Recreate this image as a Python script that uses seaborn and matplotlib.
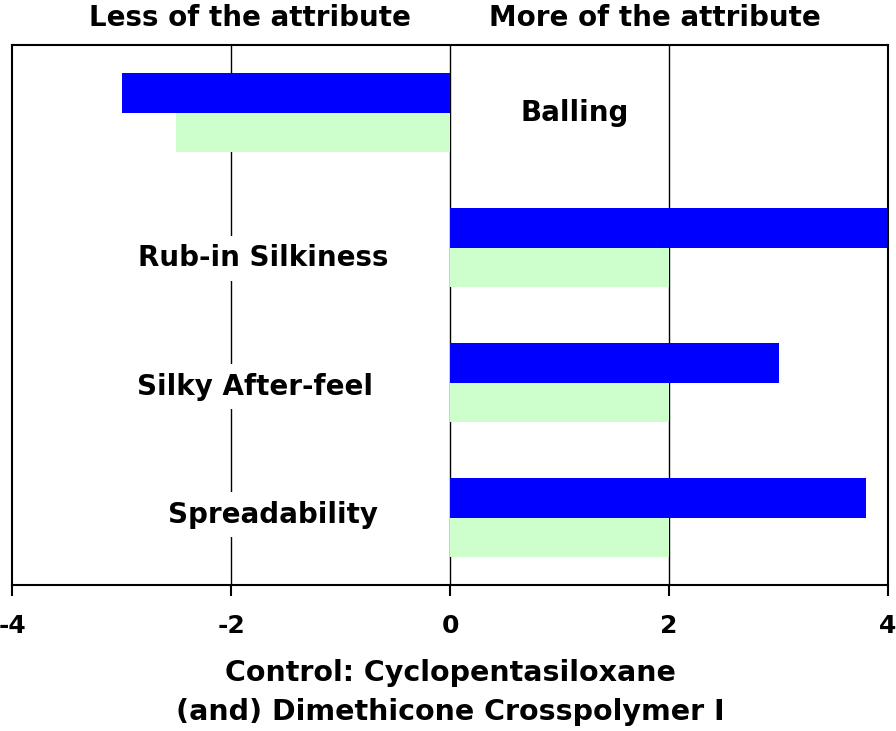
import pandas as pd
import matplotlib
matplotlib.use("Agg")
import matplotlib.pyplot as plt
import seaborn as sns

# attributes (top to bottom) and scores for the two products
attributes = ["Balling", "Rub-in Silkiness", "Silky After-feel", "Spreadability"]
test_scores = [-3.0, 4.1, 3.0, 3.8]
control_scores = [-2.5, 2.0, 2.0, 2.0]
series_names = ["Test", "Control"]
series_colors = ["#0000FF", "#CCFFCC"]
x_ticks = [-4, -2, 0, 2, 4]

# where the attribute names sit inside the plot
label_x = [1.14, -1.71, -1.78, -1.62]
label_y = [0.0, 1.08, 2.03, 2.98]

df = pd.DataFrame({
    "attribute": attributes * 2,
    "score": test_scores + control_scores,
    "series": [series_names[0]] * len(attributes) + [series_names[1]] * len(attributes),
})

sns.set_style("white")
plt.rcParams["font.family"] = ["DejaVu Sans"]
plt.rcParams["font.weight"] = "bold"
plt.rcParams["text.color"] = "black"
plt.rcParams["xtick.color"] = "black"
plt.rcParams["axes.labelcolor"] = "black"

fig = plt.figure(figsize=(8.96, 7.31), dpi=100)
ax = fig.add_axes([0.0134, 0.1997, 0.9777, 0.7387])

for gx in x_ticks[1:-1]:
    ax.axvline(gx, color="black", lw=1.0, zorder=0)

sns.barplot(data=df, x="score", y="attribute", hue="series", order=attributes,
            hue_order=series_names, palette=series_colors, orient="h",
            width=0.58, saturation=1, legend=False, ax=ax, zorder=2,
            edgecolor="none")

ax.set_xlim(-4, 4)
ax.set_ylim(3.5, -0.5)
ax.set_xticks(x_ticks)
ax.set_xticklabels([str(t) for t in x_ticks], fontsize=18, fontweight="bold")
ax.set_yticks([])
ax.set_ylabel("")
ax.set_xlabel("Control: Cyclopentasiloxane\n(and) Dimethicone Crosspolymer I",
              fontsize=20.5, fontweight="bold", labelpad=15, linespacing=1.5)
ax.tick_params(axis="x", direction="out", length=8, width=1.5, color="black",
               bottom=True, pad=13)

for s in ax.spines.values():
    s.set_visible(True)
    s.set_color("black")
    s.set_linewidth(1.5)

for name, lx, ly in zip(attributes, label_x, label_y):
    ax.text(lx, ly, name, ha="center", va="center", fontsize=20,
            fontweight="bold", zorder=3,
            bbox=dict(facecolor="white", edgecolor="none", pad=6))

ax.text(0.272, 1.05, "Less of the attribute", transform=ax.transAxes,
        ha="center", va="center", fontsize=20, fontweight="bold")
ax.text(0.734, 1.05, "More of the attribute", transform=ax.transAxes,
        ha="center", va="center", fontsize=20, fontweight="bold")

fig.savefig("out.png", dpi=100)
